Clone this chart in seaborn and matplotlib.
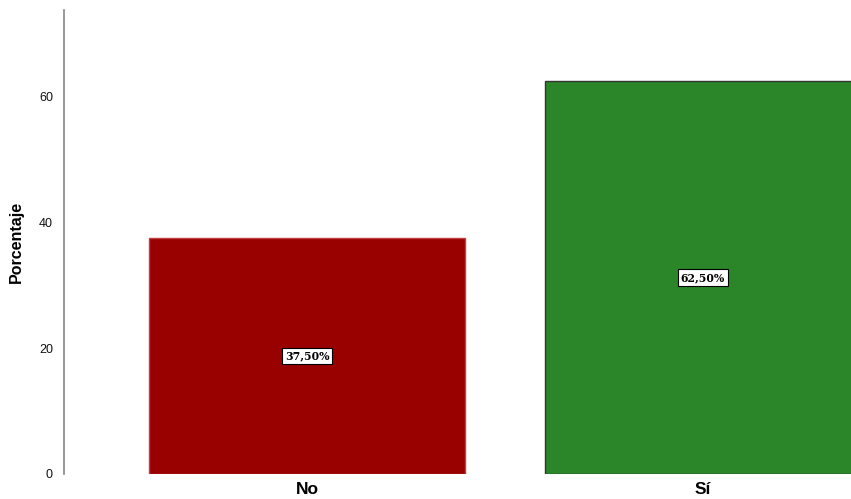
import matplotlib
matplotlib.use("Agg")
import matplotlib.pyplot as plt
import seaborn as sns
import pandas as pd

categories = ["No", "Sí"]
percentages = [37.5, 62.5]
bar_colors = ["#990000", "#2a8629"]
edge_colors = ["#c04040", "#333333"]

sns.set_theme(style="white")
plt.rcParams["font.family"] = ["Liberation Sans", "DejaVu Sans"]
plt.rcParams["text.color"] = "black"

df = pd.DataFrame({"Respuesta": categories, "Porcentaje": percentages})

fig = plt.figure(figsize=(8.51, 4.99), dpi=100)
ax = fig.add_axes([64 / 851, 1 - 474 / 499, 1 - 64 / 851, (474 - 10) / 499])

sns.barplot(data=df, x="Respuesta", y="Porcentaje", hue="Respuesta",
            palette=bar_colors, width=0.8, saturation=1, legend=False, ax=ax)

for patch, ec in zip(ax.patches, edge_colors):
    patch.set_edgecolor(ec)
    patch.set_linewidth(1.0)
    patch.set_clip_on(True)

for i, v in enumerate(percentages):
    ax.text(i, v / 2, f"{v:.2f}%".replace(".", ","), ha="center", va="center",
            fontsize=7.8, fontweight="bold", family="DejaVu Serif", color="black",
            bbox=dict(boxstyle="square,pad=0.25", facecolor="white",
                      edgecolor="black", linewidth=0.8))

ax.set_xlim(-0.614, 1.374)
ax.set_ylim(0, 73.8)
ax.set_yticks([0, 20, 40, 60])
ax.tick_params(axis="y", length=0, labelsize=9, pad=8, labelcolor="#111111")
ax.tick_params(axis="x", length=0, labelsize=12.5, pad=6, labelcolor="black")
for lbl in ax.get_xticklabels():
    lbl.set_fontweight("bold")
ax.set_xlabel("")
ax.set_ylabel("Porcentaje", fontsize=11.5, fontweight="bold", labelpad=11,
              color="black")

for side in ["top", "right", "bottom"]:
    ax.spines[side].set_visible(False)
ax.spines["left"].set_color("#888888")
ax.spines["left"].set_linewidth(1.2)

fig.savefig("out.png", dpi=100)
